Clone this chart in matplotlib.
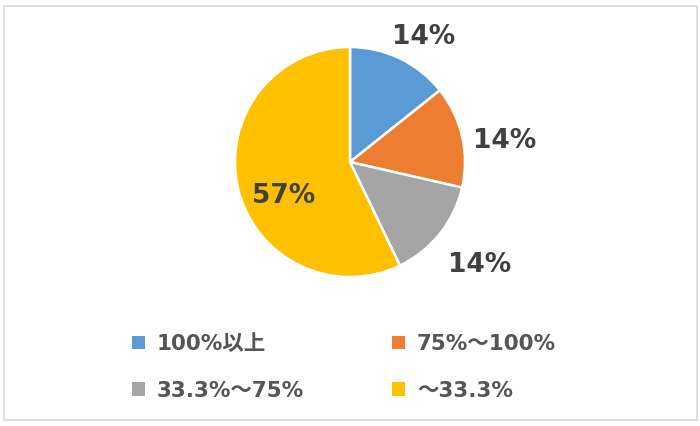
import numpy as np
import matplotlib
matplotlib.use("Agg")
import matplotlib.pyplot as plt
from matplotlib.patches import Patch, Rectangle

plt.rcParams['font.family'] = ['DejaVu Sans', 'Noto Sans CJK JP']

categories = ["100%以上", "75%～100%", "33.3%～75%", "～33.3%"]
counts = [1, 1, 1, 4]
colors = ["#5B9BD5", "#ED7D31", "#A5A5A5", "#FFC000"]

W, H = 700, 426
fig = plt.figure(figsize=(W / 100, H / 100), dpi=100)
fig.patch.set_facecolor("white")

# outer chart border
fig.add_artist(Rectangle((3.5 / W, 6.5 / H), 693 / W, 414 / H, transform=fig.transFigure,
                         fill=False, edgecolor="#D9D9D9", linewidth=1.2))

cx, cy, r = 350, 426 - 162, 115
ax = fig.add_axes([(cx - r) / W, (cy - r) / H, 2 * r / W, 2 * r / H])
wedges, _ = ax.pie(counts, colors=colors, startangle=90, counterclock=False,
                   wedgeprops=dict(edgecolor="white", linewidth=1.8))
ax.set_xlim(-1, 1)
ax.set_ylim(-1, 1)
ax.set_aspect("equal")
ax.axis("off")

total = sum(counts)
# label placement: (angle offset in degrees, radial distance)
placements = [(-5, 1.26), (-5, 1.36), (0, 1.44), (14, 0.65)]
for w, v, (da, dist) in zip(wedges, counts, placements):
    mid = np.deg2rad((w.theta1 + w.theta2) / 2 + da)
    ax.text(dist * np.cos(mid), dist * np.sin(mid), f"{v / total * 100:.0f}%",
            ha="center", va="center", fontsize=19, fontweight="bold",
            color="#404040", clip_on=False)

# legend filled row by row (matplotlib fills columns first)
order = [0, 2, 1, 3]
handles = [Patch(facecolor=colors[i], edgecolor="none") for i in order]
labels = [categories[i] for i in order]
fig.legend(handles, labels, ncol=2, loc="upper left",
           bbox_to_anchor=(132 / W, 1 - 334 / H), frameon=False,
           prop=dict(weight="bold", size=15.5), labelcolor="#555555",
           handlelength=0.6, handleheight=0.6, handletextpad=0.55,
           columnspacing=4.1, labelspacing=1.25, borderpad=0, borderaxespad=0)

fig.savefig("out.png", dpi=100)
